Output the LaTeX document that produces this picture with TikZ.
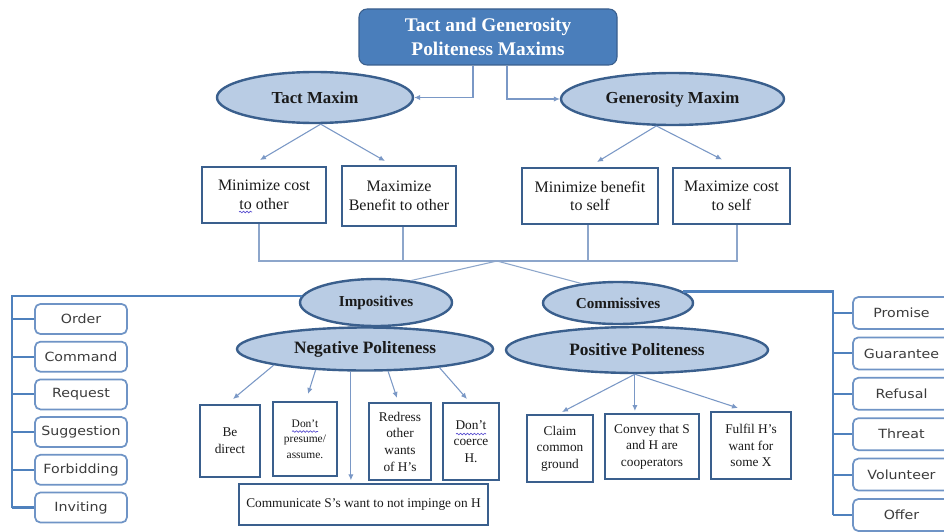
\documentclass[tikz,border=0pt]{standalone}
\usepackage{fontspec}
\setmainfont{Liberation Serif}
\newfontfamily\verd[FakeStretch=1.12]{DejaVu Sans}
\usetikzlibrary{shapes.geometric,arrows.meta,calc,decorations.pathmorphing}
\definecolor{edge}{HTML}{3A5F8D}
\definecolor{ellfill}{HTML}{B9CCE4}
\definecolor{titlefill}{HTML}{4A7EBB}
\definecolor{sedge}{HTML}{6F94C6}
\definecolor{conn}{HTML}{7A98C6}
\definecolor{tcol}{HTML}{8DA6CB}
\definecolor{mblue}{HTML}{4F81BD}
\definecolor{ink}{HTML}{1A1A1A}
\definecolor{wavec}{HTML}{5A4FD0}
\begin{document}
\begin{tikzpicture}[x=0.75pt,y=-0.75pt,
 ell/.style={ellipse, draw=edge, fill=ellfill, line width=1.8pt, inner sep=0pt, text=ink},
 rbox/.style={rectangle, draw=edge, fill=white, line width=1.5pt, inner sep=0pt, align=center, text=ink},
 sbox/.style={rectangle, rounded corners=4pt, draw=sedge, fill=white, line width=1.3pt, inner sep=0pt, text=ink!85,
   font=\verd\fontsize{9.5}{11}\selectfont},
 lsbox/.style={sbox, minimum width=69pt, minimum height=22.5pt},
 rsbox/.style={sbox, minimum width=72.75pt, minimum height=24pt},
 arr/.style={draw=conn, line width=0.8pt, -{Latex[length=4.5pt,width=4pt]}},
 tline/.style={draw=tcol, line width=0.8pt},
 side/.style={draw=mblue, line width=1.6pt},
 wave/.style={draw=wavec, line width=0.5pt, decorate, decoration={snake, amplitude=0.6pt, segment length=2.6pt}},
 bigtxt/.style={font=\fontsize{12}{14}\selectfont},
 smtxt/.style={font=\fontsize{10}{12.5}\selectfont}
]
\fill[white] (0,0) rectangle (944,531);
\useasboundingbox (0,0) rectangle (944,531);

% title
\node[rectangle, rounded corners=6pt, draw=edge, line width=0.8pt, fill=titlefill,
  minimum width=193.5pt, minimum height=42pt, align=center, text=white,
  font=\bfseries\fontsize{14.5}{17.5}\selectfont] (title) at (488,37)
  {Tact and Generosity\\Politeness Maxims};

% maxim ellipses
\node[ell, minimum width=147pt, minimum height=38.25pt, font=\bfseries\fontsize{12.6}{15}\selectfont] (tact) at (315,97.5) {Tact Maxim};
\node[ell, minimum width=167.25pt, minimum height=39pt, font=\bfseries\fontsize{12.6}{15}\selectfont] (gen) at (672.5,99) {Generosity Maxim};

% first-row boxes
\node[rbox, bigtxt, minimum width=93pt, minimum height=42pt] (b1) at (264,195) {Minimize cost\\to other};
\node[rbox, bigtxt, minimum width=85.5pt, minimum height=45pt] (b2) at (399,196) {Maximize\\Benefit to other};
\node[rbox, bigtxt, minimum width=102pt, minimum height=42pt] (b3) at (590,196) {Minimize benefit\\to self};
\node[rbox, bigtxt, minimum width=87.75pt, minimum height=42pt] (b4) at (731.5,195.5) {Maximize cost\\to self};

% second-level ellipses
\node[ell, minimum width=114pt, minimum height=35.25pt, font=\bfseries\fontsize{11.4}{13}\selectfont] (imp) at (376,302.5) {Impositives};
\node[ell, minimum width=112.5pt, minimum height=31.5pt, font=\bfseries\fontsize{11.4}{13}\selectfont] (comm) at (618,303) {Commissives};
\node[ell, minimum width=192pt, minimum height=32.25pt, font=\bfseries\fontsize{13}{15}\selectfont] (neg) at (365,349) {Negative Politeness};
\node[ell, minimum width=196.5pt, minimum height=34.5pt, font=\bfseries\fontsize{13}{15}\selectfont] (pos) at (637,350) {Positive Politeness};

% lower boxes
\node[rbox, smtxt, minimum width=45pt, minimum height=54pt] (bd) at (230,441) {Be\\direct};
\node[rbox, font=\fontsize{8.6}{11.5}\selectfont, minimum width=48pt, minimum height=55.5pt] (dp) at (305,439) {Don't\\presume/\\assume.};
\node[rbox, smtxt, minimum width=46.5pt, minimum height=57.75pt] (rd) at (400,441.5) {Redress\\other\\wants\\of H's};
\node[rbox, smtxt, minimum width=42pt, minimum height=57.75pt] (dc) at (471,441.5) {Don't\\coerce\\H.};
\node[rbox, smtxt, minimum width=186.75pt, minimum height=30.75pt] (cm) at (363.5,504.5) {Communicate S's want to not impinge on H};
\node[rbox, smtxt, minimum width=49.5pt, minimum height=50.25pt] (cl) at (560,448.5) {Claim\\common\\ground};
\node[rbox, smtxt, minimum width=70.5pt, minimum height=48.75pt] (cv) at (652,446.5) {Convey that S\\and H are\\cooperators};
\node[rbox, smtxt, minimum width=60pt, minimum height=50.25pt] (ff) at (751,445.5) {Fulfil H's\\want for\\some X};

% spell-check squiggles
\draw[wave] ($(b1.center)+(-25,17)$) -- ++(13,0);
\draw[wave] ($(dp.center)+(-13,-7.5)$) -- ++(26,0);
\draw[wave] ($(dc.center)+(-15,-7.5)$) -- ++(30,0);

% left list
\node[lsbox] (o1) at (81,319) {Order};
\node[lsbox] (o2) at (81,356.7) {Command};
\node[lsbox] (o3) at (81,394.4) {Request};
\node[lsbox] (o4) at (81,432.1) {Suggestion};
\node[lsbox] (o5) at (81,469.8) {Forbidding};
\node[lsbox] (o6) at (81,507.5) {Inviting};

% right list
\node[rsbox] (p1) at (901.5,313) {Promise};
\node[rsbox] (p2) at (901.5,353.4) {Guarantee};
\node[rsbox] (p3) at (901.5,393.8) {Refusal};
\node[rsbox] (p4) at (901.5,434.2) {Threat};
\node[rsbox] (p5) at (901.5,474.6) {Volunteer};
\node[rsbox] (p6) at (901.5,515) {Offer};

\coordinate (J) at (497,261);
\coordinate (lbot) at (12,508);
\coordinate (rbot) at (833,515);
\coordinate (s1) at ($(b1.south)+(-5,0)$);
\coordinate (s2) at ($(b2.south)+(4,0)$);
\coordinate (s3) at ($(b3.south)+(-2,0)$);
\coordinate (s4) at ($(b4.south)+(5.5,0)$);

% title connectors
\draw[arr] ($(title.south)+(-15,0)$) |- (tact.east);
\draw[arr] ($(title.south)+(19,0)$) |- (gen.west);

% maxims to boxes
\draw[arr] (tact.282) -- ($(b1.north)+(-4,-6)$);
\draw[arr] (tact.282) -- ($(b2.north)+(-14,-4)$);
\draw[arr] (gen.239) -- ($(b3.north)+(7,-5)$);
\draw[arr] (gen.239) -- ($(b4.north)+(-9.5,-7)$);

% tree joining the four boxes
\draw[tline] (s1) -- (s1 |- J) -- (s4 |- J) -- (s4);
\draw[tline] (s2) -- (s2 |- J);
\draw[tline] (s3) -- (s3 |- J);
\draw[tline] (imp.32) -- (J) -- (comm.152);

% side trees
\draw[side] (imp.175) -| (lbot);
\foreach \n in {o1,o2,o3,o4,o5,o6} \draw[side] (\n.west) -- (\n.west -| lbot);
\draw[side] (comm.10) -| (rbot);
\foreach \n in {p1,p2,p3,p4,p5,p6} \draw[side] (\n.west) -- (\n.west -| rbot);

% negative politeness arrows
\draw[arr] (neg.190) -- ($(bd.north)+(3,-5)$);
\draw[arr] (neg.203) -- ($(dp.north)+(3,-7)$);
\draw[arr, shorten >=2pt] (neg.238) -- (neg.238 |- cm.north);
\draw[arr] (neg.316) -- ($(rd.north)+(-3,-4)$);
\draw[arr] (neg.346) -- ($(dc.north)+(-4,-3)$);

% positive politeness arrows
\draw[arr] (pos.265) -- ($(cl.north)+(2,-2)$);
\draw[arr, shorten >=1.5pt] (pos.265) -- (pos.265 |- cv.north);
\draw[arr] (pos.265) -- ($(ff.north)+(-13,-3)$);
\end{tikzpicture}
\end{document}
